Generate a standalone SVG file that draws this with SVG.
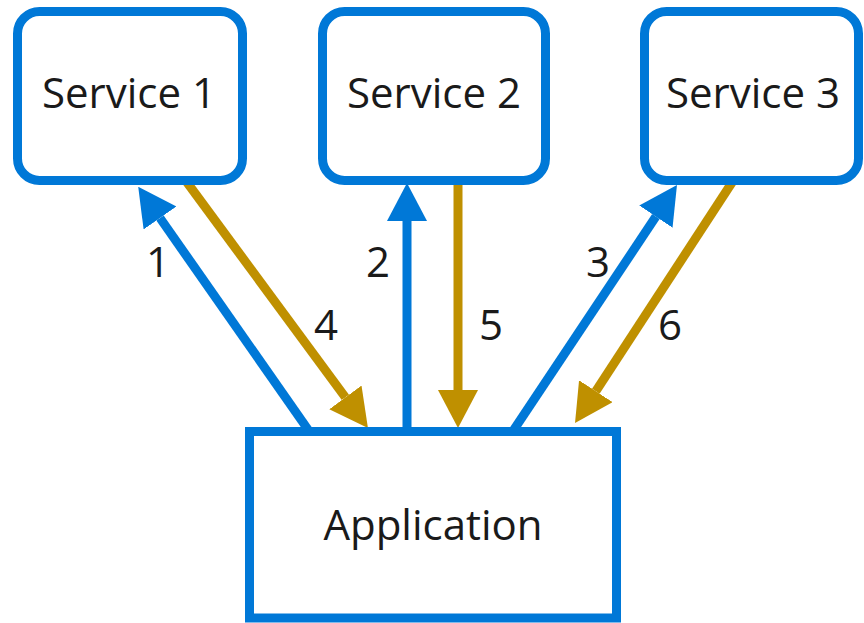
<svg xmlns="http://www.w3.org/2000/svg" width="864" height="623" viewBox="0 0 864 623">
<style>
.box{fill:#fff;stroke:#0078d7;stroke-width:9}
.lbl{font-family:"Open Sans","Noto Sans",sans-serif;font-size:42px;fill:#1a1a1a}
.num{font-family:"Open Sans","Noto Sans",sans-serif;font-size:42px;fill:#1a1a1a}
.blue{stroke:#0078d7;stroke-width:9;fill:none}
.gold{stroke:#bf9000;stroke-width:9;fill:none}
</style>
<defs>
<marker id="hb" markerUnits="userSpaceOnUse" viewBox="0 0 38 40" refX="0" refY="20" markerWidth="38" markerHeight="40" orient="auto"><path d="M0,0 L38,20 L0,40 z" fill="#0078d7"/></marker>
<marker id="hg" markerUnits="userSpaceOnUse" viewBox="0 0 38 40" refX="0" refY="20" markerWidth="38" markerHeight="40" orient="auto"><path d="M0,0 L38,20 L0,40 z" fill="#bf9000"/></marker>
</defs>
<g id="connectors">
<line class="blue" x1="309" y1="431" x2="160" y2="218" marker-end="url(#hb)"/>
<line class="gold" x1="186" y1="181" x2="345.4" y2="397.4" marker-end="url(#hg)"/>
<line class="blue" x1="407" y1="431" x2="407" y2="221" marker-end="url(#hb)"/>
<line class="gold" x1="458" y1="181" x2="458" y2="390" marker-end="url(#hg)"/>
<line class="blue" x1="513" y1="431" x2="655.9" y2="216.6" marker-end="url(#hb)"/>
<line class="gold" x1="733" y1="181" x2="595.8" y2="391.2" marker-end="url(#hg)"/>
<text class="num" x="158" y="277" text-anchor="middle">1</text>
<text class="num" x="378" y="277" text-anchor="middle">2</text>
<text class="num" x="598" y="277" text-anchor="middle">3</text>
<text class="num" x="326" y="340" text-anchor="middle">4</text>
<text class="num" x="491" y="340" text-anchor="middle">5</text>
<text class="num" x="670" y="340" text-anchor="middle">6</text>
</g>
<g id="service1">
<rect class="box" x="17.5" y="11.5" width="225" height="169" rx="22"/>
<text class="lbl" x="129" y="108" text-anchor="middle">Service 1</text>
</g>
<g id="service2">
<rect class="box" x="322.5" y="11.5" width="223" height="169" rx="22"/>
<text class="lbl" x="434" y="108" text-anchor="middle">Service 2</text>
</g>
<g id="service3">
<rect class="box" x="644.5" y="11.5" width="214" height="169" rx="22"/>
<text class="lbl" x="753" y="108" text-anchor="middle">Service 3</text>
</g>
<g id="application">
<rect class="box" x="249.5" y="431.5" width="367" height="186.5"/>
<text class="lbl" x="433" y="540" text-anchor="middle">Application</text>
</g>
</svg>
